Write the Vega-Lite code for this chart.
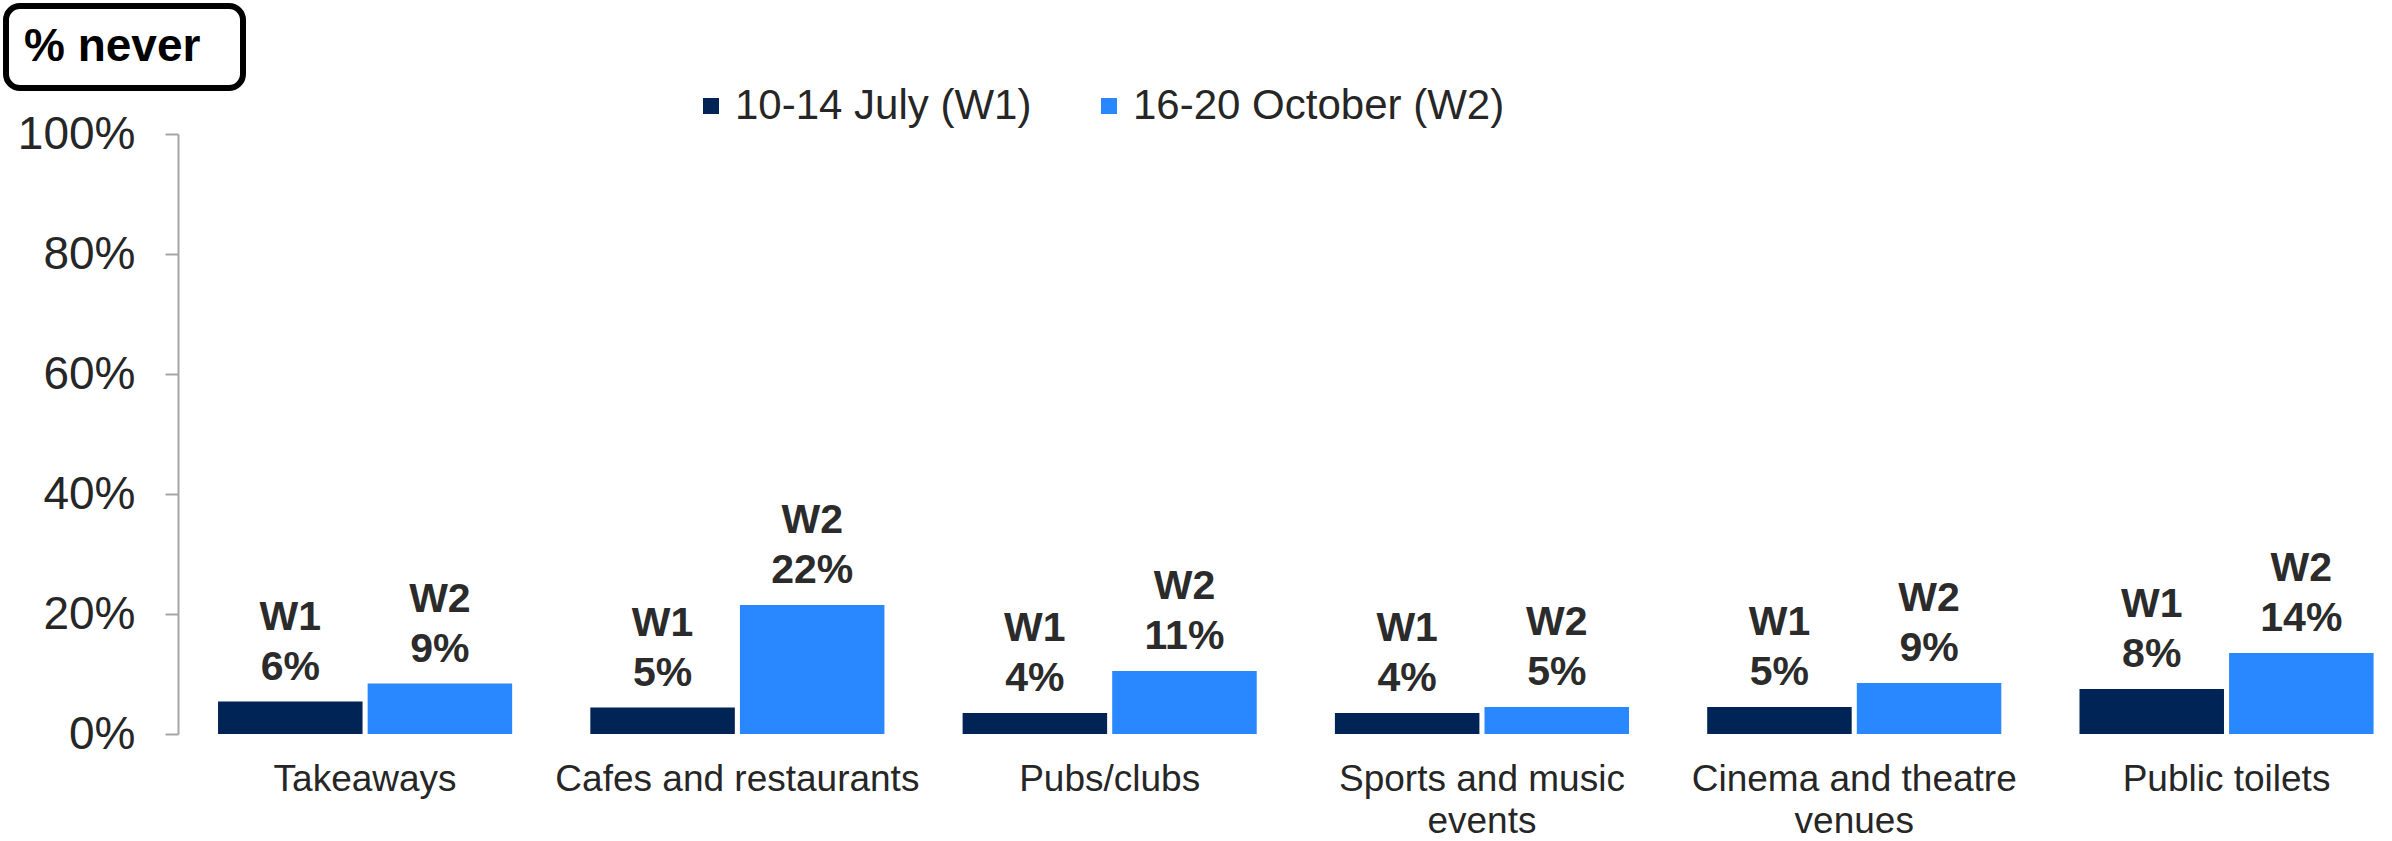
{
  "$schema": "https://vega.github.io/schema/vega-lite/v6.json",
  "background": "white",
  "autosize": {"type": "none"},
  "width": 2214,
  "height": 600,
  "padding": {"left": 178, "top": 134, "right": 0, "bottom": 107},
  "config": {
    "font": "Liberation Sans",
    "view": {"stroke": null},
    "legend": {"strokeWidth": 6}
  },
  "data": {
    "values": [
      {"place": "Takeaways", "wave": "10-14 July (W1)", "value": 0.054, "label": ["W1", "6%"]},
      {"place": "Takeaways", "wave": "16-20 October (W2)", "value": 0.084, "label": ["W2", "9%"]},
      {"place": "Cafes and restaurants", "wave": "10-14 July (W1)", "value": 0.044, "label": ["W1", "5%"]},
      {"place": "Cafes and restaurants", "wave": "16-20 October (W2)", "value": 0.215, "label": ["W2", "22%"]},
      {"place": "Pubs/clubs", "wave": "10-14 July (W1)", "value": 0.035, "label": ["W1", "4%"]},
      {"place": "Pubs/clubs", "wave": "16-20 October (W2)", "value": 0.105, "label": ["W2", "11%"]},
      {"place": "Sports and music events", "wave": "10-14 July (W1)", "value": 0.035, "label": ["W1", "4%"]},
      {"place": "Sports and music events", "wave": "16-20 October (W2)", "value": 0.045, "label": ["W2", "5%"]},
      {"place": "Cinema and theatre venues", "wave": "10-14 July (W1)", "value": 0.045, "label": ["W1", "5%"]},
      {"place": "Cinema and theatre venues", "wave": "16-20 October (W2)", "value": 0.085, "label": ["W2", "9%"]},
      {"place": "Public toilets", "wave": "10-14 July (W1)", "value": 0.075, "label": ["W1", "8%"]},
      {"place": "Public toilets", "wave": "16-20 October (W2)", "value": 0.135, "label": ["W2", "14%"]}
    ]
  },
  "encoding": {
    "x": {
      "field": "place", "type": "nominal", "sort": null,
      "scale": {"paddingInner": 0.21, "paddingOuter": 0.0785, "align": 0.685},
      "axis": {
        "title": null, "domain": false, "ticks": false, "tickSize": 0,
        "labelAngle": 0, "labelFontSize": 37, "labelColor": "#262626", "labelLimit": 1000,
        "labelPadding": 27, "labelLineHeight": 42, "labelBaseline": "top",
        "labelExpr": "datum.value == 'Sports and music events' ? ['Sports and music', 'events'] : datum.value == 'Cinema and theatre venues' ? ['Cinema and theatre', 'venues'] : datum.value"
      }
    },
    "xOffset": {"field": "wave", "type": "nominal", "sort": null, "scale": {"paddingInner": 0.034, "paddingOuter": 0}},
    "y": {
      "field": "value", "type": "quantitative",
      "scale": {"domain": [0, 1], "nice": false},
      "axis": {
        "title": null, "grid": false, "values": [0, 0.2, 0.4, 0.6, 0.8, 1], "format": ".0%",
        "domainColor": "#a6a6a6", "domainWidth": 2, "tickColor": "#a6a6a6", "tickWidth": 2,
        "tickSize": 13, "labelPadding": 30, "labelFontSize": 46, "labelColor": "#262626"
      }
    }
  },
  "layer": [
    {
      "mark": {"type": "bar"},
      "encoding": {
        "color": {
          "field": "wave", "type": "nominal", "sort": null,
          "scale": {"range": ["#002456", "#2988FF"]},
          "legend": {
            "orient": "none", "legendX": 512, "legendY": -49, "direction": "horizontal",
            "title": null, "symbolType": "square", "symbolSize": 256, "symbolStrokeWidth": 0,
            "labelFontSize": 42, "labelColor": "#262626", "labelOffset": 3, "labelLimit": 1000,
            "columnPadding": 56, "padding": 0
          }
        },
        "opacity": {
          "datum": "% never", "type": "nominal",
          "scale": {"range": [1, 1]},
          "legend": {
            "orient": "none", "legendX": -172, "legendY": -128,
            "title": null, "symbolSize": 4, "symbolOpacity": 0, "symbolStrokeWidth": 0, "symbolOffset": 177,
            "symbolFillColor": "white", "symbolStrokeColor": "white",
            "labelFontSize": 46, "labelFontWeight": "bold", "labelColor": "black",
            "labelOffset": -223, "labelLimit": 1000, "padding": 18,
            "strokeColor": "black", "cornerRadius": 14, "fillColor": "white"
          }
        }
      }
    },
    {
      "mark": {"type": "text", "fontWeight": "bold", "fontSize": 41, "color": "#2b2b2b", "align": "center", "baseline": "bottom", "lineHeight": 50, "dy": -63},
      "encoding": {"text": {"field": "label", "type": "nominal"}}
    }
  ]
}
